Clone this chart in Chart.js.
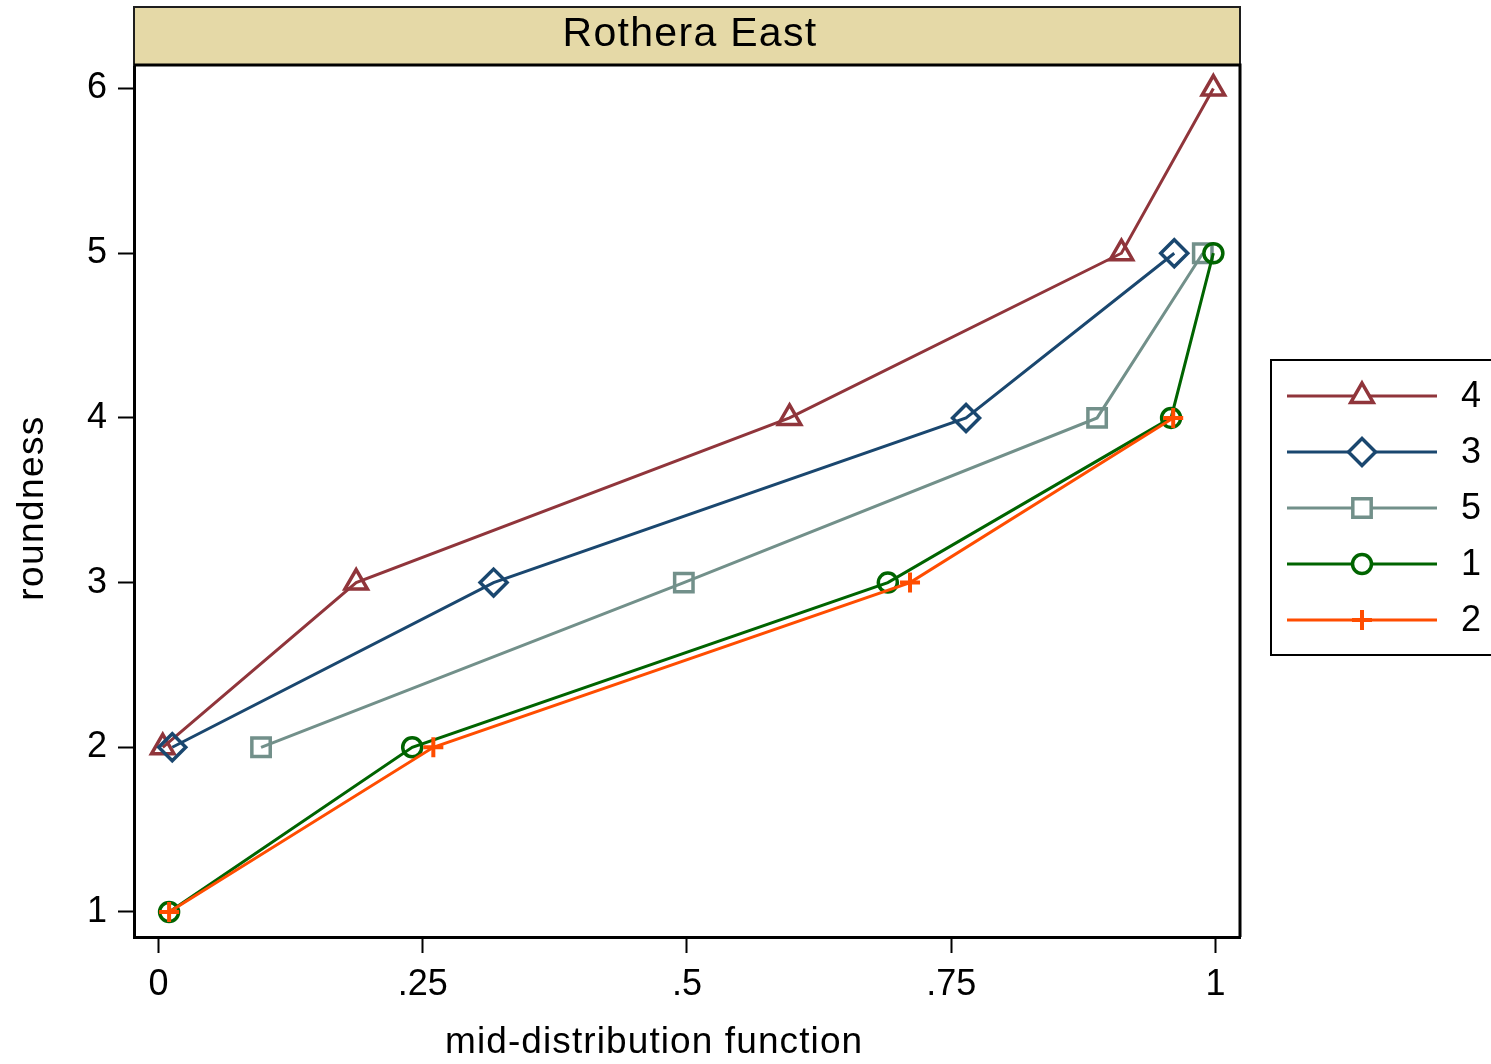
<!DOCTYPE html>
<html>
<head>
<meta charset="utf-8">
<script src="https://cdn.jsdelivr.net/npm/chart.js@4.4.1/dist/chart.umd.min.js"></script>
<style>
  html, body { margin: 0; padding: 0; background: #fff; }
  canvas { display: block; }
</style>
</head>
<body>
<canvas id="mdf" width="1491" height="1064"></canvas>
<script>
var FONT = '"Liberation Sans", Arial, Helvetica, sans-serif';

var groups = ["4", "3", "5", "1", "2"];
var colors = ["#90353b", "#1a476f", "#72908a", "#006400", "#ff4d00"];
var markers = ["triangle", "rectRot", "rect", "circle", "cross"];
var radii = [13, 13.5, 13, 9.5, 10];

// mid-distribution function (x) against roundness (y), one pair per group
var mdf4 = [0.004, 0.187, 0.597, 0.911, 0.998];
var round4 = [2, 3, 4, 5, 6];
var mdf3 = [0.013, 0.317, 0.764, 0.961];
var round3 = [2, 3, 4, 5];
var mdf5 = [0.097, 0.497, 0.888, 0.988];
var round5 = [2, 3, 4, 5];
var mdf1 = [0.010, 0.240, 0.690, 0.958, 0.998];
var round1 = [1, 2, 3, 4, 5];
var mdf2 = [0.010, 0.260, 0.711, 0.960];
var round2 = [1, 2, 3, 4];

var xTicks = [0, 0.25, 0.5, 0.75, 1];
var xTickLabels = ["0", ".25", ".5", ".75", "1"];
var yTicks = [1, 2, 3, 4, 5, 6];

var xs = [mdf4, mdf3, mdf5, mdf1, mdf2];
var ys = [round4, round3, round5, round1, round2];

function pts(x, y) {
  return x.map(function (v, i) { return { x: v, y: y[i] }; });
}

var datasets = groups.map(function (g, i) {
  return {
    label: g,
    data: pts(xs[i], ys[i]),
    showLine: true,
    borderColor: colors[i],
    borderWidth: 3,
    pointStyle: markers[i],
    pointRadius: radii[i],
    pointBorderWidth: markers[i] == "cross" ? 4 : 3.5,
    pointBorderColor: colors[i],
    pointBackgroundColor: "rgba(0,0,0,0)",
    order: groups.length - i
  };
});

var extras = {
  id: "extras",
  afterDraw: function (chart) {
    var ctx = chart.ctx, a = chart.chartArea;
    ctx.save();

    // panel title strip
    ctx.fillStyle = "#e5d9a7";
    ctx.fillRect(a.left, 7, a.right - a.left, a.top - 7);
    ctx.strokeStyle = "#1e1e1e";
    ctx.lineWidth = 2;
    ctx.strokeRect(a.left, 7, a.right - a.left, a.top - 7);
    ctx.fillStyle = "#000";
    ctx.font = "41px " + FONT;
    ctx.letterSpacing = "1.3px";
    ctx.textAlign = "center";
    ctx.textBaseline = "alphabetic";
    ctx.fillText("Rothera East", 690, 46);

    // plot frame top and right
    ctx.strokeStyle = "#000";
    ctx.lineWidth = 3;
    ctx.beginPath();
    ctx.moveTo(a.left, a.top);
    ctx.lineTo(a.right, a.top);
    ctx.lineTo(a.right, a.bottom);
    ctx.stroke();

    // axis titles
    ctx.font = "37px " + FONT;
    ctx.letterSpacing = "1.1px";
    ctx.textAlign = "left";
    ctx.fillText("mid-distribution function", 445, 1053);
    ctx.save();
    ctx.translate(43, 508);
    ctx.rotate(-Math.PI / 2);
    ctx.letterSpacing = "1.4px";
    ctx.textAlign = "center";
    ctx.fillText("roundness", 0, 0);
    ctx.restore();
    ctx.letterSpacing = "0px";

    // legend
    ctx.lineWidth = 2;
    ctx.strokeStyle = "#000";
    ctx.strokeRect(1271, 360, 240, 295);
    ctx.font = "36px " + FONT;
    ctx.textAlign = "left";
    ctx.textBaseline = "middle";
    groups.forEach(function (g, i) {
      var y = 396 + i * 56;
      ctx.strokeStyle = colors[i];
      ctx.lineWidth = 3;
      ctx.beginPath();
      ctx.moveTo(1287, y);
      ctx.lineTo(1437, y);
      ctx.stroke();
      ctx.fillStyle = "#fff";
      ctx.lineWidth = markers[i] == "cross" ? 4 : 3.5;
      Chart.helpers.drawPoint(ctx, {
        pointStyle: markers[i], rotation: 0, radius: radii[i],
        borderWidth: markers[i] == "cross" ? 4 : 3.5
      }, 1362, y);
      ctx.fillStyle = "#000";
      ctx.fillText(g, 1461, y + 1);
    });
    ctx.restore();
  }
};

var ctx = document.getElementById("mdf").getContext("2d");
var myChart = new Chart(ctx, {
  type: "scatter",
  data: { datasets: datasets },
  options: {
    responsive: false,
    animation: false,
    events: [],
    layout: { padding: { left: 74, right: 251, top: 65, bottom: 57 } },
    plugins: { legend: { display: false }, tooltip: { enabled: false } },
    scales: {
      x: {
        type: "linear",
        min: -0.0232,
        max: 1.0232,
        afterFit: function (s) { s.height = 70; },
        afterBuildTicks: function (s) {
          s.ticks = xTicks.map(function (v) { return { value: v }; });
        },
        grid: { drawOnChartArea: false, drawTicks: true, tickLength: 16, tickWidth: 2, color: "#000" },
        border: { display: true, color: "#000", width: 3 },
        ticks: {
          color: "#000",
          padding: 10,
          maxRotation: 0,
          font: { family: FONT, size: 36 },
          callback: function (v, i) { return xTickLabels[i]; }
        }
      },
      y: {
        type: "linear",
        min: 0.848,
        max: 6.143,
        afterFit: function (s) { s.width = 60; },
        afterBuildTicks: function (s) {
          s.ticks = yTicks.map(function (v) { return { value: v }; });
        },
        grid: { drawOnChartArea: false, drawTicks: true, tickLength: 16, tickWidth: 2, color: "#000" },
        border: { display: true, color: "#000", width: 3 },
        ticks: {
          color: "#000",
          padding: 11,
          font: { family: FONT, size: 36 },
          callback: function (v) { return String(v); }
        }
      }
    }
  },
  plugins: [extras]
});
</script>
</body>
</html>
